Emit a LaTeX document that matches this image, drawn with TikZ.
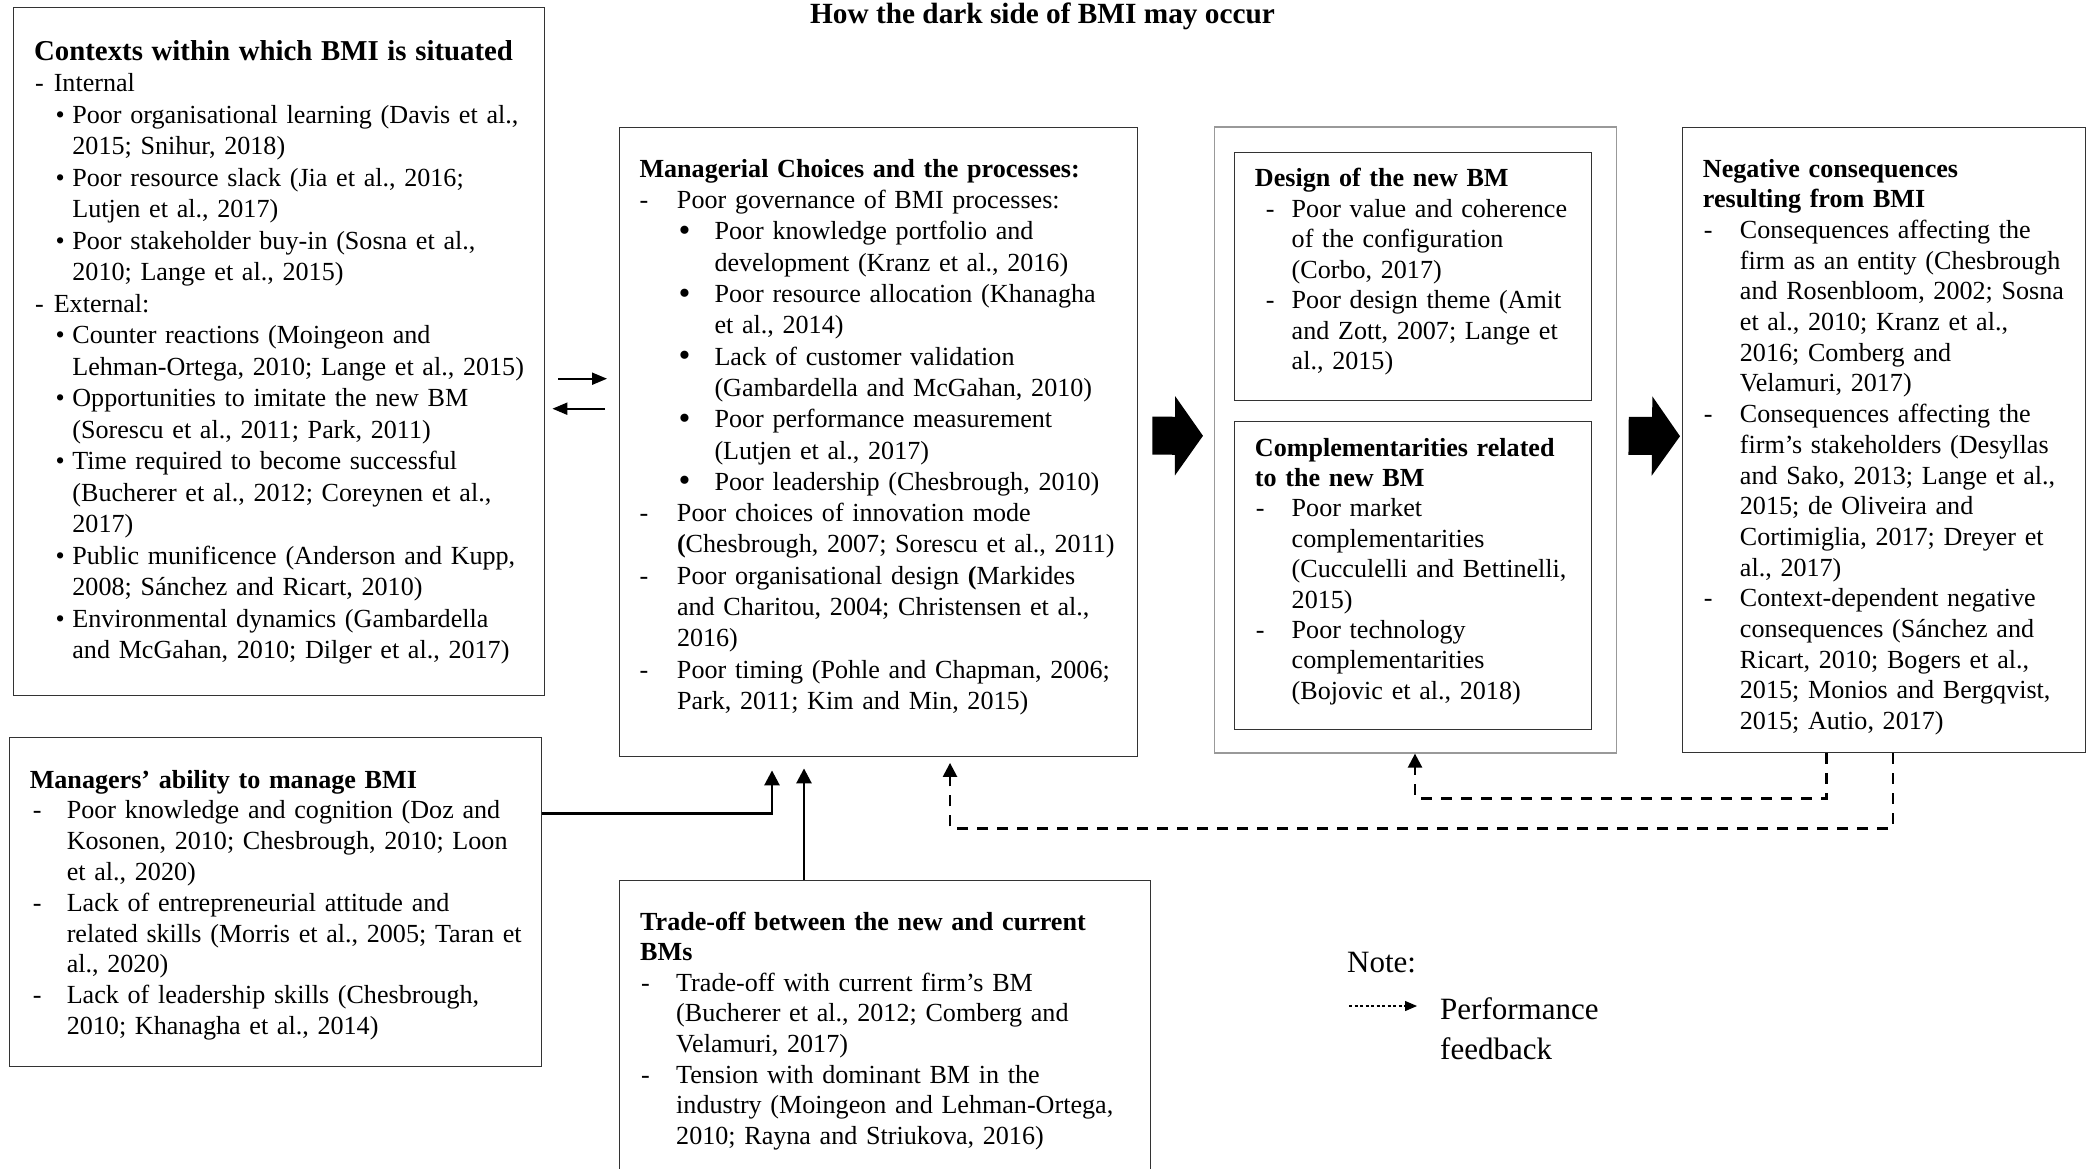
\documentclass[tikz,border=0pt]{standalone}
\usepackage{fontspec}
\setmainfont{Liberation Serif}
\usetikzlibrary{arrows.meta}
\newcommand\Mk[3]{\makebox[0pt][l]{\hspace*{#1pt}#2}\hspace*{#3pt}}
\newcommand\Ind[1]{\hspace*{#1pt}}
\newcommand\bodyfont[1]{\fontsize{26.1}{#1}\selectfont}
\newcommand\bigbul{\raisebox{-1.5pt}{\fontsize{34}{30}\selectfont\textbullet}}
\begin{document}
\begin{tikzpicture}[x=1pt,y=-1pt,
  box/.style={draw=black!80, line width=1.4pt, inner sep=0pt, anchor=north west},
  outerbox/.style={draw=black!40, line width=1.6pt, inner sep=0pt, anchor=north west},
  txt/.style={anchor=base west, inner sep=0pt, text width=600pt, align=left},
  conn/.style={line width=2.7pt, -{Triangle[length=15pt,width=15pt]}},
  fb/.style={line width=2.4pt, dash pattern=on 11pt off 9pt, -{Triangle[length=14pt,width=14pt]}},
  big/.style={line width=38pt, -{Triangle[length=28pt,width=78pt]}},
  thinarr/.style={line width=2pt, -{Triangle[length=15pt,width=12pt]}},
  legarr/.style={line width=1.2pt, dash pattern=on 3pt off 2.5pt, -{Triangle[length=12pt,width=10pt]}}
]
\useasboundingbox (0,0) rectangle (2092,1168);

% title
\node[anchor=base, inner sep=0pt, font=\fontsize{29.3}{31}\selectfont\bfseries] (title) at (1042.5,23) {How the dark side of BMI may occur};

% boxes
\node[box, minimum width=531pt, minimum height=688pt] (A) at (13,7) {};
\node[box, minimum width=518.5pt, minimum height=628.5pt] (B) at (618.5,127) {};
\node[outerbox, minimum width=402pt, minimum height=626pt] (C) at (1213.5,126) {};
\node[box, minimum width=357pt, minimum height=247.5pt] (C1) at (1234,152) {};
\node[box, minimum width=357pt, minimum height=308.5pt] (C2) at (1234,420.5) {};
\node[box, minimum width=403pt, minimum height=625pt] (D) at (1682,127) {};
\node[box, minimum width=532pt, minimum height=328.5pt] (E) at (9,737) {};
\node[box, minimum width=530.5pt, minimum height=330pt] (F) at (619,880) {};

% texts
\node[txt, font=\bodyfont{31.5}] (tA) at (34,60) {%
{\fontsize{28.8}{31.5}\selectfont\bfseries Contexts within which BMI is situated}\\
\Mk{1}{-}{19.6}Internal\\
\Mk{21.5}{\textbullet}{38.2}Poor organisational learning (Davis et al.,\\
\Ind{38.2}2015; Snihur, 2018)\\
\Mk{21.5}{\textbullet}{38.2}Poor resource slack (Jia et al., 2016;\\
\Ind{38.2}Lutjen et al., 2017)\\
\Mk{21.5}{\textbullet}{38.2}Poor stakeholder buy-in (Sosna et al.,\\
\Ind{38.2}2010; Lange et al., 2015)\\
\Mk{1}{-}{19.6}External:\\
\Mk{21.5}{\textbullet}{38.2}Counter reactions (Moingeon and\\
\Ind{38.2}Lehman-Ortega, 2010; Lange et al., 2015)\\
\Mk{21.5}{\textbullet}{38.2}Opportunities to imitate the new BM\\
\Ind{38.2}(Sorescu et al., 2011; Park, 2011)\\
\Mk{21.5}{\textbullet}{38.2}Time required to become successful\\
\Ind{38.2}(Bucherer et al., 2012; Coreynen et al.,\\
\Ind{38.2}2017)\\
\Mk{21.5}{\textbullet}{38.2}Public munificence (Anderson and Kupp,\\
\Ind{38.2}2008; Sánchez and Ricart, 2010)\\
\Mk{21.5}{\textbullet}{38.2}Environmental dynamics (Gambardella\\
\Ind{38.2}and McGahan, 2010; Dilger et al., 2017)};

\node[txt, font=\bodyfont{31.3}] (tB) at (639.3,177.3) {%
\textbf{Managerial Choices and the processes:}\\
\Mk{0}{-}{37.5}Poor governance of BMI processes:\\
\Mk{39}{\bigbul}{75}Poor knowledge portfolio and\\
\Ind{75}development (Kranz et al., 2016)\\
\Mk{39}{\bigbul}{75}Poor resource allocation (Khanagha\\
\Ind{75}et al., 2014)\\
\Mk{39}{\bigbul}{75}Lack of customer validation\\
\Ind{75}(Gambardella and McGahan, 2010)\\
\Mk{39}{\bigbul}{75}Poor performance measurement\\
\Ind{75}(Lutjen et al., 2017)\\
\Mk{39}{\bigbul}{75}Poor leadership (Chesbrough, 2010)\\
\Mk{0}{-}{37.5}Poor choices of innovation mode\\
\Ind{37.5}\textbf{(}Chesbrough, 2007; Sorescu et al., 2011)\\
\Mk{0}{-}{37.5}Poor organisational design \textbf{(}Markides\\
\Ind{37.5}and Charitou, 2004; Christensen et al.,\\
\Ind{37.5}2016)\\
\Mk{0}{-}{37.5}Poor timing (Pohle and Chapman, 2006;\\
\Ind{37.5}Park, 2011; Kim and Min, 2015)};

\node[txt, font=\bodyfont{30.5}] (tC1) at (1254.7,186.6) {%
\textbf{Design of the new BM}\\
\Mk{11}{-}{36.8}Poor value and coherence\\
\Ind{36.8}of the configuration\\
\Ind{36.8}(Corbo, 2017)\\
\Mk{11}{-}{36.8}Poor design theme (Amit\\
\Ind{36.8}and Zott, 2007; Lange et\\
\Ind{36.8}al., 2015)};

\node[txt, font=\bodyfont{30.4}] (tC2) at (1254.7,456) {%
\textbf{Complementarities related}\\
\textbf{to the new BM}\\
\Mk{1}{-}{36.8}Poor market\\
\Ind{36.8}complementarities\\
\Ind{36.8}(Cucculelli and Bettinelli,\\
\Ind{36.8}2015)\\
\Mk{1}{-}{36.8}Poor technology\\
\Ind{36.8}complementarities\\
\Ind{36.8}(Bojovic et al., 2018)};

\node[txt, font=\bodyfont{30.7}] (tD) at (1702.7,177) {%
\textbf{Negative consequences}\\
\textbf{resulting from BMI}\\
\Mk{1}{-}{37}Consequences affecting the\\
\Ind{37}firm as an entity (Chesbrough\\
\Ind{37}and Rosenbloom, 2002; Sosna\\
\Ind{37}et al., 2010; Kranz et al.,\\
\Ind{37}2016; Comberg and\\
\Ind{37}Velamuri, 2017)\\
\Mk{1}{-}{37}Consequences affecting the\\
\Ind{37}firm’s stakeholders (Desyllas\\
\Ind{37}and Sako, 2013; Lange et al.,\\
\Ind{37}2015; de Oliveira and\\
\Ind{37}Cortimiglia, 2017; Dreyer et\\
\Ind{37}al., 2017)\\
\Mk{1}{-}{37}Context-dependent negative\\
\Ind{37}consequences (Sánchez and\\
\Ind{37}Ricart, 2010; Bogers et al.,\\
\Ind{37}2015; Monios and Bergqvist,\\
\Ind{37}2015; Autio, 2017)};

\node[txt, font=\bodyfont{30.8}] (tE) at (29.6,788) {%
\textbf{Managers’ ability to manage BMI}\\
\Mk{3}{-}{37}Poor knowledge and cognition (Doz and\\
\Ind{37}Kosonen, 2010; Chesbrough, 2010; Loon\\
\Ind{37}et al., 2020)\\
\Mk{3}{-}{37}Lack of entrepreneurial attitude and\\
\Ind{37}related skills (Morris et al., 2005; Taran et\\
\Ind{37}al., 2020)\\
\Mk{3}{-}{37}Lack of leadership skills (Chesbrough,\\
\Ind{37}2010; Khanagha et al., 2014)};

\node[txt, font=\bodyfont{30.6}] (tF) at (640,930) {%
\textbf{Trade-off between the new and current}\\
\textbf{BMs}\\
\Mk{1}{-}{36}Trade-off with current firm’s BM\\
\Ind{36}(Bucherer et al., 2012; Comberg and\\
\Ind{36}Velamuri, 2017)\\
\Mk{1}{-}{36}Tension with dominant BM in the\\
\Ind{36}industry (Moingeon and Lehman-Ortega,\\
\Ind{36}2010; Rayna and Striukova, 2016)};

% note
\node[anchor=base west, inner sep=0pt, font=\fontsize{31}{38}\selectfont] (note) at (1347,972) {Note:};
\node[txt, text width=250pt, font=\fontsize{31}{40}\selectfont] (perf) at (1440,1019) {Performance\\feedback};
\coordinate (lg1) at (1349,1006);
\coordinate (lg2) at (1417,1006);
\draw[legarr] (lg1) -- (lg2);

% connectors A <-> B
\draw[thinarr] ([xshift=13pt,yshift=-27pt]A.east) -- ([xshift=-11.5pt,yshift=63.25pt]B.west);
\draw[thinarr] ([xshift=-13.5pt,yshift=33.25pt]B.west) -- ([xshift=7pt,yshift=-57pt]A.east);

% big arrows
\draw[big] ([xshift=14pt,yshift=6.25pt]B.east) -- ([xshift=-10.5pt,yshift=4pt]C.west);
\draw[big] ([xshift=11.5pt,yshift=4pt]C.east) -- ([xshift=-2pt,yshift=4pt]D.west);

% E -> B, F -> B
\draw[conn] ([yshift=88.25pt]E.east) -| ([xshift=153.5pt,yshift=-13.5pt]B.south west);
\draw[conn] ([xshift=185pt]F.north west) -- ([xshift=185.5pt,yshift=-11.5pt]B.south west);

% performance feedback
\draw[fb] ([xshift=144.5pt]D.south west) -- ++(0,45) -| ([xshift=201.5pt]C.south west);
\draw[fb] ([xshift=211pt]D.south west) -- ++(0,75) -| ([xshift=331.5pt,yshift=-6pt]B.south west);
\end{tikzpicture}
\end{document}
